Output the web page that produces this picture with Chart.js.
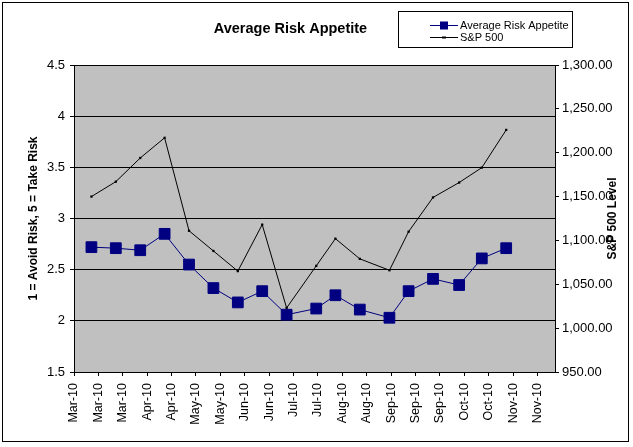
<!DOCTYPE html>
<html>
<head>
<meta charset="utf-8">
<script src="https://cdn.jsdelivr.net/npm/chart.js@4.4.1/dist/chart.umd.min.js"></script>
<style>
  html, body { margin: 0; padding: 0; background: #fff; }
  canvas { display: block; }
</style>
</head>
<body>
<canvas id="c" width="633" height="447"></canvas>
<script>
// ---------------- data ----------------
const chartTitle = 'Average Risk Appetite';
const seriesNames = ['Average Risk Appetite', 'S&P 500'];
const leftAxisTitle = '1 = Avoid Risk, 5 = Take Risk';
const rightAxisTitle = 'S&P 500 Level';

const surveyDates = ['2010-03-13','2010-03-27','2010-04-10','2010-04-24','2010-05-08','2010-05-22',
  '2010-06-05','2010-06-19','2010-07-03','2010-07-20','2010-07-31','2010-08-14',
  '2010-08-31','2010-09-11','2010-09-25','2010-10-10','2010-10-23','2010-11-06'];
const riskAppetite = [2.72, 2.71, 2.69, 2.85, 2.55, 2.32, 2.18, 2.29, 2.06,
  2.12, 2.25, 2.11, 2.03, 2.29, 2.41, 2.35, 2.61, 2.71];
const sp500 = [1150, 1167, 1194, 1217, 1111, 1088, 1065, 1118, 1023,
  1071, 1102, 1079, 1066, 1110, 1149, 1166, 1183, 1226];

const tickDates = ['2010-03-03','2010-03-17','2010-03-31','2010-04-14','2010-04-28','2010-05-12',
  '2010-05-26','2010-06-09','2010-06-23','2010-07-07','2010-07-21','2010-08-04','2010-08-18',
  '2010-09-01','2010-09-15','2010-09-29','2010-10-13','2010-10-27','2010-11-10','2010-11-24'];
const tickLabels = ['Mar-10','Mar-10','Mar-10','Apr-10','Apr-10','May-10','May-10','Jun-10','Jun-10',
  'Jul-10','Jul-10','Aug-10','Aug-10','Sep-10','Sep-10','Sep-10','Oct-10','Oct-10','Nov-10','Nov-10'];
const axisStartDate = '2010-03-03';
const axisEndDate = '2010-12-04';

// ---------------- helpers ----------------
function dayNum(s) {
  const [y, m, d] = s.split('-').map(Number);
  return Math.round((Date.UTC(y, m - 1, d) - Date.UTC(2010, 2, 3)) / 86400000);
}
const tickDays = tickDates.map(dayNum);
const xs = surveyDates.map(dayNum);

const FONT = "'Liberation Sans', Arial, sans-serif";
const NAVY = '#000080';

const decor = {
  id: 'decor',
  beforeDraw(chart) {
    const { ctx, chartArea: a } = chart;
    ctx.save();
    ctx.fillStyle = '#ffffff';
    ctx.fillRect(0, 0, chart.width, chart.height);
    ctx.fillStyle = '#c0c0c0';
    ctx.fillRect(a.left, a.top, a.right - a.left, a.bottom - a.top);
    ctx.restore();
  },
  afterDraw(chart) {
    const { ctx, chartArea: a } = chart;
    ctx.save();
    // outer frame
    ctx.strokeStyle = '#000';
    ctx.lineWidth = 1;
    ctx.strokeRect(2.5, 2.5, 626, 439);
    // title
    ctx.fillStyle = '#000';
    ctx.font = 'bold 14.5px ' + FONT;
    ctx.textAlign = 'center';
    ctx.textBaseline = 'middle';
    ctx.fillText(chartTitle, 290.5, 28.5);
    // right axis title (reads bottom to top)
    ctx.save();
    ctx.translate(612.5, (a.top + a.bottom) / 2);
    ctx.rotate(-Math.PI / 2);
    ctx.font = 'bold 12px ' + FONT;
    ctx.fillText(rightAxisTitle, 0, 0);
    ctx.restore();
    // legend
    const lx = 398.5, ly = 11.5, lw = 174, lh = 36;
    ctx.fillStyle = '#fff';
    ctx.fillRect(lx, ly, lw, lh);
    ctx.strokeRect(lx, ly, lw, lh);
    const rows = [25.5, 37.5];
    chart.data.datasets.forEach((ds, i) => {
      const y = rows[i];
      ctx.strokeStyle = ds.borderColor;
      ctx.lineWidth = 1;
      ctx.beginPath();
      ctx.moveTo(430, y);
      ctx.lineTo(458, y);
      ctx.stroke();
      ctx.fillStyle = ds.pointBackgroundColor;
      if (i === 0) {
        ctx.fillRect(440, y - 4, 8, 8);
      } else {
        ctx.fillRect(442, y - 1, 4, 2);
      }
      ctx.fillStyle = '#000';
      ctx.font = '11px ' + FONT;
      ctx.textAlign = 'left';
      ctx.textBaseline = 'middle';
      ctx.fillText(ds.label, 460, y + 0.5);
    });
    ctx.restore();
  }
};

new Chart(document.getElementById('c'), {
  type: 'line',
  data: {
    datasets: [
      {
        label: seriesNames[0],
        data: xs.map((x, i) => ({ x, y: riskAppetite[i] })),
        yAxisID: 'y',
        borderColor: NAVY,
        borderWidth: 1,
        pointStyle: 'rect',
        pointRadius: 7.6,
        pointBackgroundColor: NAVY,
        pointBorderColor: NAVY,
        pointBorderWidth: 1,
        tension: 0,
        order: 0
      },
      {
        label: seriesNames[1],
        data: xs.map((x, i) => ({ x, y: sp500[i] })),
        yAxisID: 'y2',
        borderColor: '#000000',
        borderWidth: 1,
        pointStyle: 'rect',
        pointRadius: 1.6,
        pointBackgroundColor: '#000000',
        pointBorderColor: '#000000',
        pointBorderWidth: 0,
        tension: 0,
        order: 1
      }
    ]
  },
  options: {
    responsive: false,
    animation: false,
    devicePixelRatio: 1,
    layout: { padding: { top: 65, left: 0, right: 0, bottom: 0 } },
    plugins: {
      legend: { display: false },
      title: { display: false },
      tooltip: { enabled: false }
    },
    scales: {
      x: {
        type: 'linear',
        position: 'bottom',
        min: dayNum(axisStartDate),
        max: dayNum(axisEndDate),
        grid: { drawOnChartArea: false, drawTicks: true, tickLength: 4, color: '#000' },
        border: { color: '#000', width: 1 },
        ticks: {
          autoSkip: false,
          maxRotation: 90,
          minRotation: 90,
          padding: 7,
          color: '#000',
          font: { family: FONT, size: 12.5 },
          callback: (v, i) => tickLabels[i]
        },
        afterBuildTicks: (s) => { s.ticks = tickDays.map(v => ({ value: v })); },
        afterFit: (s) => { s.height = 75; }
      },
      y: {
        type: 'linear',
        position: 'left',
        min: 1.5,
        max: 4.5,
        grid: { color: '#000', drawTicks: true, tickLength: 4 },
        border: { color: '#000', width: 1 },
        ticks: {
          stepSize: 0.5,
          padding: 5,
          color: '#000',
          font: { family: FONT, size: 13 },
          callback: (v) => String(Math.round(v * 10) / 10)
        },
        title: {
          display: true,
          text: leftAxisTitle,
          color: '#000',
          font: { family: FONT, size: 12, weight: 'bold' },
          padding: { top: 26.8, bottom: 0 }
        },
        afterFit: (s) => { s.width = 74; }
      },
      y2: {
        type: 'linear',
        position: 'right',
        min: 950,
        max: 1300,
        grid: { drawOnChartArea: false, drawTicks: true, tickLength: 4, color: '#000' },
        border: { color: '#000', width: 1 },
        ticks: {
          stepSize: 50,
          padding: 3,
          color: '#000',
          font: { family: FONT, size: 13 },
          callback: (v) => v.toLocaleString('en-US', { minimumFractionDigits: 2, maximumFractionDigits: 2 })
        },
        afterFit: (s) => { s.width = 78; }
      }
    }
  },
  plugins: [decor]
});
</script>
</body>
</html>
